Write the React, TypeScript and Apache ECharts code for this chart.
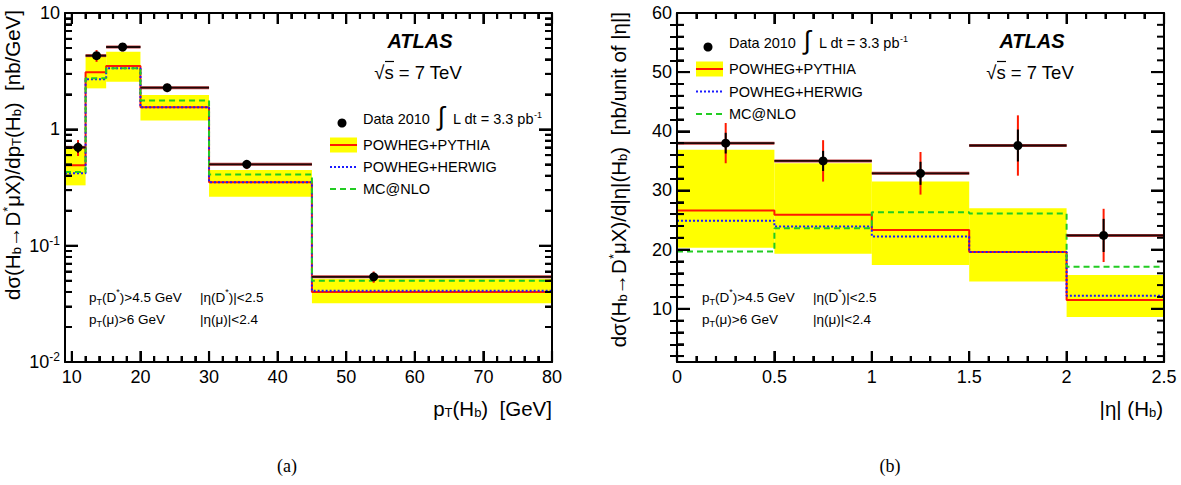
import React, { useEffect, useRef } from "react";
import * as echarts from "echarts";

// ---------- data: panel (a) pT(Hb) ----------
const ptEdges = [9, 12, 15, 20, 30, 45, 80];
const ptPointX = [10.9, 13.6, 17.4, 23.9, 35.5, 54.0];
const ptData = [0.7, 4.3, 5.1, 2.28, 0.5, 0.054];
const ptStatErr = [0.07, 0.3, 0.3, 0.12, 0.03, 0.004];
const ptTotErr = [0.11, 0.5, 0.42, 0.19, 0.045, 0.006];
const ptPythia = [0.49, 3.1, 3.5, 1.55, 0.35, 0.04];
const ptPythiaLo = [0.33, 2.25, 2.57, 1.19, 0.263, 0.032];
const ptPythiaHi = [0.69, 4.2, 4.65, 1.97, 0.447, 0.052];
const ptHerwig = [0.42, 2.7, 3.35, 1.55, 0.35, 0.041];
const ptMcnlo = [0.43, 2.75, 3.35, 1.77, 0.41, 0.05];
const ptTicks = [10, 20, 30, 40, 50, 60, 70, 80];
const logTicks = [0.01, 0.1, 1, 10];

// ---------- data: panel (b) |eta|(Hb) ----------
const etaEdges = [0, 0.5, 1.0, 1.5, 2.0, 2.5];
const etaPointX = [0.25, 0.75, 1.25, 1.75, 2.19];
const etaData = [38.0, 35.0, 32.9, 37.6, 22.4];
const etaStatErr = [1.75, 1.7, 1.95, 2.7, 2.8];
const etaTotErr = [3.4, 3.5, 3.6, 5.1, 4.5];
const etaPythia = [26.6, 25.9, 23.3, 19.6, 11.5];
const etaPythiaLo = [20.3, 19.3, 17.4, 14.6, 8.6];
const etaPythiaHi = [36.9, 34.6, 31.5, 27.0, 15.7];
const etaHerwig = [24.9, 23.9, 22.2, 19.6, 12.2];
const etaMcnlo = [19.7, 23.6, 26.3, 26.1, 17.1];
const etaXTicks = [0, 0.5, 1, 1.5, 2, 2.5];
const etaYTicks = [10, 20, 30, 40, 50, 60];

// axis ranges
const PT_X = [9, 80];
const PT_Y = [0.01, 10];
const ETA_X = [0, 2.5];
const ETA_Y = [1, 60];

const FONT = '"Liberation Sans", Arial, Helvetica, sans-serif';
const RED = "#ff1a00";
const BLUE = "#1a1aff";
const GREEN = "#22cc22";
const YELLOW = "#ffff00";

function minorLinear(min: number, max: number, step: number, major: number[]) {
  const out: number[] = [];
  const n = Math.round((max - min) / step);
  for (let i = 0; i <= n; i++) {
    const v = +(min + i * step).toFixed(6);
    if (!major.some((m) => Math.abs(m - v) < 1e-6)) out.push(v);
  }
  return out;
}
function minorLog(decades: number[]) {
  const out: number[] = [];
  decades.forEach((d) => {
    for (let k = 2; k <= 9; k++) out.push(+(d * k).toPrecision(6));
  });
  return out;
}

function stepData(edges: number[], vals: number[]) {
  return edges.map((e, i) => [e, vals[Math.min(i, vals.length - 1)]]);
}
function bandData(edges: number[], lo: number[], hi: number[]) {
  return lo.map((l, i) => [edges[i], edges[i + 1], l, hi[i]]);
}
function pointData(edges: number[], xs: number[], ys: number[], st: number[], tot: number[]) {
  return ys.map((y, i) => [xs[i], y, edges[i], edges[i + 1], y - st[i], y + st[i], y - tot[i], y + tot[i]]);
}

type TickSpec = { xMajor: number[]; xMinor: number[]; yMajor: number[]; yMinor: number[] };

function axisPair(gridIndex: number, dir: "x" | "y", type: string, range: number[], major: number[], minor: number[], label: any) {
  const base: any = { gridIndex, type, min: range[0], max: range[1], splitLine: { show: false }, z: 10 };
  if (type === "log") base.logBase = 10;
  const line = { show: true, onZero: false, lineStyle: { color: "#000", width: 2 } };
  const tick = (len: number, vals: number[]) => ({
    show: true,
    inside: true,
    length: len,
    customValues: vals,
    lineStyle: { color: "#000", width: 2 },
  });
  const majLen = dir === "x" ? 11 : 13;
  const minLen = dir === "x" ? 6 : 7;
  return [
    { ...base, position: dir === "x" ? "bottom" : "left", axisLine: line, axisTick: tick(majLen, major), axisLabel: { show: true, customValues: major, ...label } },
    { ...base, position: dir === "x" ? "top" : "right", axisLine: line, axisTick: tick(majLen, major), axisLabel: { show: false } },
    { ...base, position: dir === "x" ? "bottom" : "left", axisLine: { show: false }, axisTick: tick(minLen, minor), axisLabel: { show: false } },
    { ...base, position: dir === "x" ? "top" : "right", axisLine: { show: false }, axisTick: tick(minLen, minor), axisLabel: { show: false } },
  ];
}

function bandSeries(xi: number, yi: number, data: number[][]) {
  return {
    type: "custom",
    xAxisIndex: xi,
    yAxisIndex: yi,
    z: 1,
    silent: true,
    encode: { x: [0, 1], y: [2, 3] },
    data,
    renderItem: (params: any, api: any) => {
      const p1 = api.coord([api.value(0), api.value(3)]);
      const p2 = api.coord([api.value(1), api.value(2)]);
      return {
        type: "rect",
        shape: { x: p1[0], y: p1[1], width: p2[0] - p1[0], height: p2[1] - p1[1] },
        style: { fill: YELLOW },
      };
    },
  };
}

function lineSeries(xi: number, yi: number, data: number[][], color: string, type: any, width: number, z: number) {
  return {
    type: "line",
    xAxisIndex: xi,
    yAxisIndex: yi,
    step: "end",
    symbol: "none",
    z,
    silent: true,
    data,
    lineStyle: { color, width, type },
  };
}

// frame ticks drawn through the series' own coordinate system (scales of the grid)
function tickSeries(xi: number, yi: number, xr: number[], yr: number[], t: TickSpec) {
  const cx = (xr[0] + xr[1]) / 2;
  const cy = yr[0] > 0 && yr[1] / yr[0] > 100 ? Math.sqrt(yr[0] * yr[1]) : (yr[0] + yr[1]) / 2;
  return {
    type: "custom",
    xAxisIndex: xi,
    yAxisIndex: yi,
    z: 9,
    silent: true,
    clip: false,
    encode: { x: 0, y: 1 },
    data: [[cx, cy]],
    renderItem: (params: any, api: any) => {
      const children: any[] = [];
      const addX = (v: number, len: number) => {
        const a = api.coord([v, yr[0]]);
        const b = api.coord([v, yr[1]]);
        children.push({ type: "line", shape: { x1: a[0], y1: a[1], x2: a[0], y2: a[1] - len }, style: { stroke: "#000", lineWidth: 2.2 } });
        children.push({ type: "line", shape: { x1: b[0], y1: b[1], x2: b[0], y2: b[1] + len }, style: { stroke: "#000", lineWidth: 2.2 } });
      };
      const addY = (v: number, len: number) => {
        const a = api.coord([xr[0], v]);
        const b = api.coord([xr[1], v]);
        children.push({ type: "line", shape: { x1: a[0], y1: a[1], x2: a[0] + len, y2: a[1] }, style: { stroke: "#000", lineWidth: 2 } });
        children.push({ type: "line", shape: { x1: b[0], y1: b[1], x2: b[0] - len, y2: b[1] }, style: { stroke: "#000", lineWidth: 2 } });
      };
      t.xMajor.forEach((v) => addX(v, 11));
      t.xMinor.forEach((v) => addX(v, 6));
      t.yMajor.forEach((v) => addY(v, 13));
      t.yMinor.forEach((v) => addY(v, 7));
      return { type: "group", children };
    },
  };
}

function pointSeries(xi: number, yi: number, data: number[][]) {
  return {
    type: "custom",
    xAxisIndex: xi,
    yAxisIndex: yi,
    z: 8,
    silent: true,
    encode: { x: [0, 2, 3], y: [1, 6, 7] },
    data,
    renderItem: (params: any, api: any) => {
      const x = api.value(0);
      const y = api.value(1);
      const c = api.coord([x, y]);
      const l = api.coord([api.value(2), y]);
      const r = api.coord([api.value(3), y]);
      const s1 = api.coord([x, api.value(4)]);
      const s2 = api.coord([x, api.value(5)]);
      const t1 = api.coord([x, api.value(6)]);
      const t2 = api.coord([x, api.value(7)]);
      return {
        type: "group",
        children: [
          { type: "line", shape: { x1: l[0], y1: l[1], x2: r[0], y2: r[1] }, style: { stroke: "#c04040", lineWidth: 3 } },
          { type: "line", shape: { x1: l[0], y1: l[1], x2: r[0], y2: r[1] }, style: { stroke: "#200808", lineWidth: 1.8 } },
          { type: "line", shape: { x1: t1[0], y1: t1[1], x2: t2[0], y2: t2[1] }, style: { stroke: RED, lineWidth: 2 } },
          { type: "line", shape: { x1: s1[0], y1: s1[1], x2: s2[0], y2: s2[1] }, style: { stroke: "#000", lineWidth: 2 } },
          { type: "circle", shape: { cx: c[0], cy: c[1], r: 4.5 }, style: { fill: "#000" } },
        ],
      };
    },
  };
}

const richT: any = {
  n: { fontSize: 20.5, lineHeight: 22, verticalAlign: "middle", fontFamily: FONT, fill: "#000" },
  s: { fontSize: 13, lineHeight: 10, verticalAlign: "bottom", fontFamily: FONT, fill: "#000" },
  p: { fontSize: 13, lineHeight: 10, verticalAlign: "top", fontFamily: FONT, fill: "#000" },
};
const richS: any = {
  n: { fontSize: 13.5, lineHeight: 19, verticalAlign: "middle", fontFamily: FONT, fill: "#000" },
  s: { fontSize: 9, lineHeight: 9, verticalAlign: "bottom", fontFamily: FONT, fill: "#000" },
  p: { fontSize: 9, lineHeight: 9, verticalAlign: "top", fontFamily: FONT, fill: "#000" },
};
const richL: any = {
  n: { fontSize: 14.5, lineHeight: 18, verticalAlign: "middle", fontFamily: FONT, fill: "#000" },
  p: { fontSize: 9, lineHeight: 9, verticalAlign: "top", fontFamily: FONT, fill: "#000" },
};

function txt(x: number, y: number, text: string, rich: any, align = "left", rotation = 0) {
  return {
    type: "text",
    x,
    y,
    rotation,
    z: 20,
    style: {
      text,
      rich,
      fill: "#000",
      font: `14px ${FONT}`,
      align,
      verticalAlign: "middle",
      textAlign: align,
      textVerticalAlign: "middle",
    },
  };
}

function legendBlock(mx: number, my: number, gap: number) {
  const bx = mx - 12;
  const tx = mx + 21;
  const items: any[] = [];
  items.push({ type: "circle", z: 20, shape: { cx: mx, cy: my + 4, r: 4.5 }, style: { fill: "#000" } });
  items.push(txt(tx, my, "{n|Data 2010}", richL));
  items.push({
    type: "text",
    z: 20,
    x: tx + 78,
    y: my - 3,
    style: { text: "∫", fill: "#000", font: `26px ${FONT}`, align: "center", verticalAlign: "middle", textAlign: "center", textVerticalAlign: "middle" },
  });
  items.push(txt(tx + 90, my, "{n|L dt = 3.3 pb}{p|-1}", richL));
  const y1 = my + 26;
  items.push({ type: "rect", z: 20, shape: { x: bx, y: y1 - 7.5, width: 27, height: 15 }, style: { fill: YELLOW } });
  items.push({ type: "line", z: 21, shape: { x1: bx, y1: y1, x2: bx + 27, y2: y1 }, style: { stroke: RED, lineWidth: 2 } });
  items.push(txt(tx, y1, "{n|POWHEG+PYTHIA}", richL));
  const y2 = y1 + gap;
  items.push({ type: "line", z: 21, shape: { x1: bx, y1: y2, x2: bx + 27, y2: y2 }, style: { stroke: BLUE, lineWidth: 2, lineDash: [2, 2] } });
  items.push(txt(tx, y2, "{n|POWHEG+HERWIG}", richL));
  const y3 = y2 + gap;
  items.push({ type: "line", z: 21, shape: { x1: bx, y1: y3, x2: bx + 27, y2: y3 }, style: { stroke: GREEN, lineWidth: 2, lineDash: [6, 4] } });
  items.push(txt(tx, y3, "{n|MC@NLO}", richL));
  return items;
}

function atlasBlock(cx: number) {
  return [
    {
      type: "text",
      z: 20,
      x: cx,
      y: 41,
      style: { text: "ATLAS", fill: "#000", font: `italic bold 20px ${FONT}`, align: "center", verticalAlign: "middle", textAlign: "center", textVerticalAlign: "middle" },
    },
    {
      type: "text",
      z: 20,
      x: cx - 2,
      y: 72,
      style: { text: "√s = 7 TeV", fill: "#000", font: `18.5px ${FONT}`, align: "center", verticalAlign: "middle", textAlign: "center", textVerticalAlign: "middle" },
    },
    { type: "line", z: 20, shape: { x1: cx - 35, y1: 61.5, x2: cx - 26, y2: 61.5 }, style: { stroke: "#000", lineWidth: 1.2 } },
  ];
}

function cutsBlock(x1: number, x2: number) {
  return [
    txt(x1, 297, "{n|p}{s|T}{n|(D}{p|*}{n|)>4.5 GeV}", richS),
    txt(x2, 297, "{n||η(D}{p|*}{n|)|<2.5}", richS),
    txt(x1, 319, "{n|p}{s|T}{n|(μ)>6 GeV}", richS),
    txt(x2, 319, "{n||η(μ)|<2.4}", richS),
  ];
}

const logLabel = (v: number) => {
  const e = Math.round(Math.log10(v));
  if (e === 0) return "1";
  if (e === 1) return "10";
  return `{b|10}{sup|${e}}`;
};

export default function App() {
  const ref = useRef<HTMLDivElement>(null);
  useEffect(() => {
    if (!ref.current) return;
    const chart = echarts.init(ref.current, undefined, { renderer: "svg" });
    const labelX = { fontSize: 18, color: "#000", fontFamily: FONT, margin: 6 };
    const labelY = {
      fontSize: 18,
      color: "#000",
      fontFamily: FONT,
      margin: 5,
      rich: {
        b: { fontSize: 18, lineHeight: 22, verticalAlign: "middle", fontFamily: FONT, color: "#000" },
        sup: { fontSize: 12, lineHeight: 12, verticalAlign: "top", fontFamily: FONT, color: "#000" },
      },
    };
    const ptSpec: TickSpec = {
      xMajor: ptTicks,
      xMinor: minorLinear(10, 80, 2, ptTicks),
      yMajor: logTicks,
      yMinor: minorLog([0.01, 0.1, 1]),
    };
    const etaSpec: TickSpec = {
      xMajor: etaXTicks,
      xMinor: minorLinear(0, 2.5, 0.1, etaXTicks),
      yMajor: etaYTicks,
      yMinor: minorLinear(2, 60, 2, etaYTicks),
    };
    const xAxis = [
      ...axisPair(0, "x", "value", PT_X, ptSpec.xMajor, ptSpec.xMinor, labelX),
      ...axisPair(1, "x", "value", ETA_X, etaSpec.xMajor, etaSpec.xMinor, labelX),
    ];
    const yAxis = [
      ...axisPair(0, "y", "log", PT_Y, ptSpec.yMajor, ptSpec.yMinor, { ...labelY, formatter: logLabel }),
      ...axisPair(1, "y", "value", ETA_Y, etaSpec.yMajor, etaSpec.yMinor, labelY),
    ];
    const series = [
      bandSeries(0, 0, bandData(ptEdges, ptPythiaLo, ptPythiaHi)),
      lineSeries(0, 0, stepData(ptEdges, ptPythia), RED, "solid", 2, 3),
      lineSeries(0, 0, stepData(ptEdges, ptHerwig), BLUE, [2, 2], 2, 4),
      lineSeries(0, 0, stepData(ptEdges, ptMcnlo), GREEN, [6, 4], 2, 5),
      pointSeries(0, 0, pointData(ptEdges, ptPointX, ptData, ptStatErr, ptTotErr)),
      tickSeries(0, 0, PT_X, PT_Y, ptSpec),
      bandSeries(4, 4, bandData(etaEdges, etaPythiaLo, etaPythiaHi)),
      lineSeries(4, 4, stepData(etaEdges, etaPythia), RED, "solid", 2, 3),
      lineSeries(4, 4, stepData(etaEdges, etaHerwig), BLUE, [2, 2], 2, 4),
      lineSeries(4, 4, stepData(etaEdges, etaMcnlo), GREEN, [6, 4], 2, 5),
      pointSeries(4, 4, pointData(etaEdges, etaPointX, etaData, etaStatErr, etaTotErr)),
      tickSeries(4, 4, ETA_X, ETA_Y, etaSpec),
    ];
    const graphic: any[] = [
      ...atlasBlock(420),
      ...atlasBlock(1032),
      ...legendBlock(342, 119, 22),
      ...legendBlock(708, 43, 22.5),
      ...cutsBlock(89, 200),
      ...cutsBlock(702, 813),
      txt(552, 408, "{n|p}{s|T}{n|(H}{s|b}{n|)  [GeV]}", richT, "right"),
      txt(1163, 408, "{n||η| (H}{s|b}{n|)}", richT, "right"),
      txt(12, 10, "{n|dσ(H}{s|b}{n|→D}{p|*}{n|μX)/dp}{s|T}{n|(H}{s|b}{n|)  [nb/GeV]}", richT, "right", Math.PI / 2),
      txt(618, 12, "{n|dσ(H}{s|b}{n|→D}{p|*}{n|μX)/d|η|(H}{s|b}{n|)  [nb/unit of |η|]}", richT, "right", Math.PI / 2),
      {
        type: "text",
        z: 20,
        x: 287,
        y: 466,
        style: { text: "(a)", fill: "#000", font: `18px "Liberation Serif", "DejaVu Serif", serif`, align: "center", verticalAlign: "middle", textAlign: "center", textVerticalAlign: "middle" },
      },
      {
        type: "text",
        z: 20,
        x: 890,
        y: 466,
        style: { text: "(b)", fill: "#000", font: `18px "Liberation Serif", "DejaVu Serif", serif`, align: "center", verticalAlign: "middle", textAlign: "center", textVerticalAlign: "middle" },
      },
    ];
    chart.setOption({
      animation: false,
      backgroundColor: "#fff",
      grid: [
        { left: 65, top: 13, width: 487, height: 349, containLabel: false },
        { left: 677, top: 13, width: 487, height: 349, containLabel: false },
      ],
      xAxis,
      yAxis,
      series,
      graphic,
    });
    return () => chart.dispose();
  }, []);
  return <div ref={ref} style={{ position: "absolute", left: 0, top: 0, width: 1181, height: 485 }} />;
}
